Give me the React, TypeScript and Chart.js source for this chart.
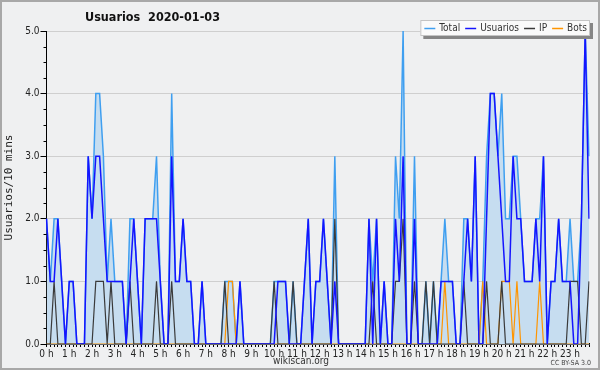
import React, { useEffect, useRef } from 'react';
import { Chart, registerables } from 'chart.js';

Chart.register(...registerables);

// 10-minute slots for 2020-01-03 (00:00 .. 23:50)
const slotLabels: string[] = Array.from({ length: 144 }, (_, i) =>
  `${String(Math.floor(i / 6)).padStart(2, '0')}:${(i % 6) * 10}`.padEnd(5, '0')
);

const total = [
  2, 1, 2, 2, 1, 0, 1, 1, 0, 0, 0, 3,
  2, 4, 4, 3, 1, 2, 1, 1, 1, 0, 2, 2,
  1, 0, 2, 2, 2, 3, 1, 0, 0, 4, 1, 1,
  2, 1, 1, 0, 0, 1, 0, 0, 0, 0, 0, 1,
  1, 1, 0, 1, 0, 0, 0, 0, 0, 0, 0, 0,
  1, 1, 1, 1, 0, 1, 0, 0, 1, 2, 0, 1,
  1, 2, 1, 0, 3, 0, 0, 0, 0, 0, 0, 0,
  0, 2, 1, 2, 0, 1, 0, 0, 3, 2, 5, 0,
  0, 3, 0, 0, 1, 0, 1, 0, 1, 2, 1, 1,
  0, 0, 2, 2, 1, 3, 0, 1, 3, 4, 4, 3,
  4, 2, 2, 3, 3, 2, 1, 1, 1, 2, 2, 3,
  0, 1, 1, 2, 1, 1, 2, 1, 1, 2, 5, 3,
];

const usuarios = [
  2, 1, 1, 2, 1, 0, 1, 1, 0, 0, 0, 3,
  2, 3, 3, 2, 1, 1, 1, 1, 1, 0, 1, 2,
  1, 0, 2, 2, 2, 2, 1, 0, 0, 3, 1, 1,
  2, 1, 1, 0, 0, 1, 0, 0, 0, 0, 0, 0,
  0, 0, 0, 1, 0, 0, 0, 0, 0, 0, 0, 0,
  0, 1, 1, 1, 0, 0, 0, 0, 1, 2, 0, 1,
  1, 2, 1, 0, 1, 0, 0, 0, 0, 0, 0, 0,
  0, 2, 0, 2, 0, 1, 0, 0, 2, 1, 3, 0,
  0, 2, 0, 0, 0, 0, 0, 0, 1, 1, 1, 1,
  0, 0, 1, 2, 1, 3, 0, 0, 2, 4, 4, 3,
  2, 1, 1, 3, 2, 2, 1, 1, 1, 2, 1, 3,
  0, 1, 1, 2, 1, 1, 1, 0, 0, 2, 5, 2,
];

const ip = [
  0, 0, 1, 0, 0, 0, 0, 0, 0, 0, 0, 0,
  0, 1, 1, 1, 0, 1, 0, 0, 0, 0, 1, 0,
  0, 0, 0, 0, 0, 1, 0, 0, 0, 1, 0, 0,
  0, 0, 0, 0, 0, 0, 0, 0, 0, 0, 0, 1,
  0, 0, 0, 0, 0, 0, 0, 0, 0, 0, 0, 0,
  1, 0, 0, 0, 0, 1, 0, 0, 0, 0, 0, 0,
  0, 0, 0, 0, 2, 0, 0, 0, 0, 0, 0, 0,
  0, 0, 1, 0, 0, 0, 0, 0, 1, 1, 2, 0,
  0, 1, 0, 0, 1, 0, 1, 0, 0, 0, 0, 0,
  0, 0, 1, 0, 0, 0, 0, 0, 1, 0, 0, 0,
  1, 0, 0, 0, 0, 0, 0, 0, 0, 0, 0, 0,
  0, 0, 0, 0, 0, 0, 1, 1, 1, 0, 0, 1,
];

const bots = [
  0, 0, 0, 0, 0, 0, 0, 0, 0, 0, 0, 0,
  0, 0, 0, 0, 0, 0, 0, 0, 0, 0, 0, 0,
  0, 0, 0, 0, 0, 0, 0, 0, 0, 0, 0, 0,
  0, 0, 0, 0, 0, 0, 0, 0, 0, 0, 0, 0,
  1, 1, 0, 0, 0, 0, 0, 0, 0, 0, 0, 0,
  0, 0, 0, 0, 0, 0, 0, 0, 0, 0, 0, 0,
  0, 0, 0, 0, 0, 0, 0, 0, 0, 0, 0, 0,
  0, 0, 0, 0, 0, 0, 0, 0, 0, 0, 0, 0,
  0, 0, 0, 0, 0, 0, 0, 0, 0, 1, 0, 0,
  0, 0, 0, 0, 0, 0, 0, 1, 0, 0, 0, 0,
  1, 1, 1, 0, 1, 0, 0, 0, 0, 0, 1, 0,
  0, 0, 0, 0, 0, 0, 0, 0, 0, 0, 0, 0,
];

const TITLE = 'Usuarios  2020-01-03';
const Y_TITLE = 'Usuarios/10 mins';
const FOOTER = 'wikiscan.org';
const LICENSE = 'CC BY-SA 3.0';

const COLORS = {
  bg: '#eff0f1',
  fill: '#c6ddf0',
  total: '#3f9ff0',
  usuarios: '#1414ff',
  ip: '#3a3a3a',
  bots: '#ff9500',
  grid: '#cfcfcf',
};

const legendItems = [
  { label: 'Total', color: COLORS.total },
  { label: 'Usuarios', color: COLORS.usuarios },
  { label: 'IP', color: COLORS.ip },
  { label: 'Bots', color: COLORS.bots },
];

const FONT = '"DejaVu Sans Condensed", "DejaVu Sans", sans-serif';

const decorPlugin = {
  id: 'decor',
  beforeDraw(chart: any) {
    const ctx = chart.ctx;
    ctx.save();
    ctx.fillStyle = COLORS.bg;
    ctx.fillRect(0, 0, chart.width, chart.height);
    ctx.restore();
  },
  afterDraw(chart: any) {
    const ctx = chart.ctx;
    const area = chart.chartArea;
    const y = chart.scales.y;
    ctx.save();
    // minor y ticks
    ctx.strokeStyle = '#000';
    ctx.lineWidth = 1;
    for (let k = 1; k < 20; k++) {
      if (k % 4 === 0) continue;
      const py = Math.round(y.getPixelForValue(k * 0.25)) + 0.5;
      ctx.beginPath();
      ctx.moveTo(area.left - 3, py);
      ctx.lineTo(area.left, py);
      ctx.stroke();
    }
    // title
    ctx.fillStyle = '#111';
    ctx.font = 'bold 12.5px ' + FONT;
    ctx.textAlign = 'left';
    ctx.textBaseline = 'middle';
    ctx.fillText(TITLE, 85, 18);

    // legend
    ctx.font = '10px ' + FONT;
    const sw = 11, gap1 = 4, gap2 = 5, padL = 4, padR = 3;
    let width = padL + padR;
    legendItems.forEach((it, i) => {
      width += sw + gap1 + ctx.measureText(it.label).width + (i < legendItems.length - 1 ? gap2 : 0);
    });
    const bx1 = 590, bx0 = bx1 - width, by0 = 20, by1 = 36;
    ctx.fillStyle = '#858585';
    ctx.fillRect(bx0 + 3, by0 + 3, width, by1 - by0);
    ctx.fillStyle = '#fafafa';
    ctx.fillRect(bx0, by0, width, by1 - by0);
    ctx.strokeStyle = '#c4c4c4';
    ctx.strokeRect(bx0 + 0.5, by0 + 0.5, width - 1, by1 - by0 - 1);
    let cx = bx0 + padL;
    const cy = 28;
    legendItems.forEach((it) => {
      ctx.strokeStyle = it.color;
      ctx.lineWidth = 1.5;
      ctx.beginPath();
      ctx.moveTo(cx, cy + 0.5);
      ctx.lineTo(cx + sw, cy + 0.5);
      ctx.stroke();
      cx += sw + gap1;
      ctx.fillStyle = '#333';
      ctx.fillText(it.label, cx, cy);
      cx += ctx.measureText(it.label).width + gap2;
    });

    // footer
    ctx.fillStyle = '#333';
    ctx.font = '10px ' + FONT;
    ctx.textAlign = 'center';
    ctx.fillText(FOOTER, 301, 361);
    ctx.font = '7px ' + FONT;
    ctx.textAlign = 'right';
    ctx.fillStyle = '#444';
    ctx.fillText(LICENSE, 591, 363);

    // outer frame
    ctx.strokeStyle = '#a8a8a8';
    ctx.lineWidth = 2;
    ctx.strokeRect(1, 1, chart.width - 2, chart.height - 2);
    ctx.restore();
  },
};

export default function App() {
  const ref = useRef<HTMLCanvasElement | null>(null);

  useEffect(() => {
    document.body.style.margin = '0';
    const canvas = ref.current;
    if (!canvas) return;
    const chart = new Chart(canvas, {
      type: 'line',
      data: {
        labels: slotLabels,
        datasets: [
          {
            label: 'Usuarios',
            data: usuarios,
            borderColor: COLORS.usuarios,
            borderWidth: 1.5,
            pointRadius: 0,
            tension: 0,
            fill: false,
            order: 0,
          },
          {
            label: 'IP',
            data: ip,
            borderColor: COLORS.ip,
            borderWidth: 1.2,
            pointRadius: 0,
            tension: 0,
            fill: false,
            order: 1,
          },
          {
            label: 'Bots',
            data: bots,
            borderColor: COLORS.bots,
            borderWidth: 1.2,
            pointRadius: 0,
            tension: 0,
            fill: false,
            order: 2,
          },
          {
            label: 'Total',
            data: total,
            borderColor: COLORS.total,
            backgroundColor: COLORS.fill,
            borderWidth: 1.5,
            pointRadius: 0,
            tension: 0,
            fill: 'origin',
            order: 3,
          },
        ],
      },
      options: {
        responsive: false,
        animation: false,
        devicePixelRatio: 1,
        layout: { padding: { top: 31, right: 11, bottom: 0, left: 0 } },
        plugins: {
          legend: { display: false },
          title: { display: false },
          tooltip: { enabled: false },
        },
        scales: {
          x: {
            type: 'category',
            offset: false,
            grid: {
              display: true,
              drawOnChartArea: false,
              tickLength: 3,
              tickColor: '#000',
            },
            border: { display: true, color: '#000', width: 1.5 },
            ticks: {
              autoSkip: false,
              maxRotation: 0,
              minRotation: 0,
              padding: 1,
              color: '#222',
              font: { family: FONT, size: 10 },
              callback: (_v: any, idx: number) => (idx % 6 === 0 ? `${idx / 6} h` : ''),
            },
            afterFit: (s: any) => {
              s.height = 26;
            },
          },
          y: {
            min: 0,
            max: 5,
            grid: {
              color: COLORS.grid,
              tickLength: 6,
              tickColor: '#000',
            },
            border: { display: true, color: '#000', width: 1 },
            ticks: {
              stepSize: 1,
              padding: 1,
              color: '#222',
              font: { family: FONT, size: 10 },
              callback: (v: any) => Number(v).toFixed(1),
            },
            title: {
              display: true,
              text: Y_TITLE,
              color: '#222',
              font: { family: '"DejaVu Sans Mono", monospace', size: 11 },
              padding: { top: 3, bottom: 0 },
            },
            afterFit: (s: any) => {
              s.width = 46.5;
            },
          },
        },
      },
      plugins: [decorPlugin],
    });
    return () => chart.destroy();
  }, []);

  return (
    <div style={{ width: 600, height: 370, position: 'relative' }}>
      <canvas ref={ref} width={600} height={370} style={{ display: 'block', width: 600, height: 370 }} />
    </div>
  );
}
